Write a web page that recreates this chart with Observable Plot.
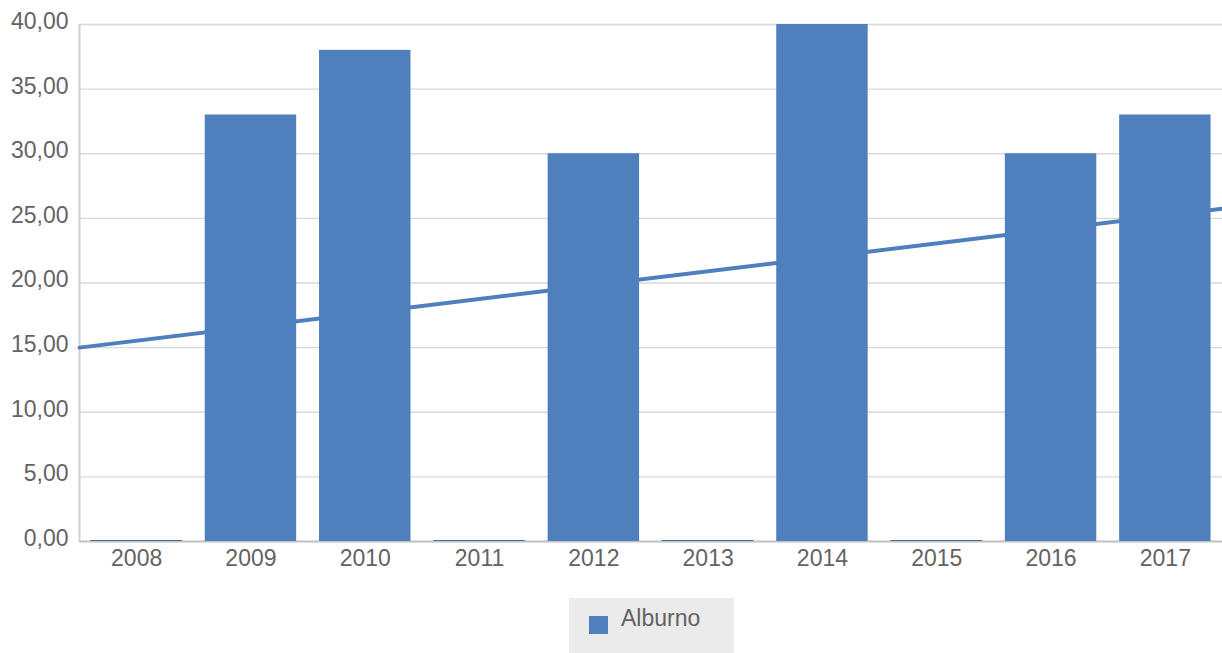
<!DOCTYPE html>
<html>
<head>
<meta charset="utf-8">
<script src="https://cdn.jsdelivr.net/npm/d3@7"></script>
<script src="https://cdn.jsdelivr.net/npm/@observablehq/plot@0.6"></script>
<style>
  html, body { margin: 0; padding: 0; background: #fff; }
  #chart svg { display: block; }
  .legend {
    margin-left: 569px; margin-top: 18px; width: 165px; height: 60px;
    background: #ebebeb; position: relative;
    font-family: "Liberation Sans", Arial, sans-serif; font-size: 23px; color: #636363;
  }
  .legend .sw { position: absolute; left: 20px; top: 18px; width: 19px; height: 18px; background: #4f7fbd; }
  .legend .lb { position: absolute; left: 52px; top: 7px; }
</style>
</head>
<body>
<div id="chart"></div>
<div class="legend"><span class="sw"></span><span class="lb">Alburno</span></div>
<script>
const years = [2008, 2009, 2010, 2011, 2012, 2013, 2014, 2015, 2016, 2017];
const values = [0, 33, 38, 0, 30, 0, 40, 0, 30, 33];
const seriesName = "Alburno";
const trendX = [2007.5, 2017.5];
const trendValues = [15.0, 25.75];
const yTicks = [0, 5, 10, 15, 20, 25, 30, 35, 40];

const data = years.map((year, i) => ({year, value: values[i]}));
const trend = trendX.map((x, i) => ({x, y: trendValues[i]}));
const blue = "#4f7fbd";
const fmt = d => d.toFixed(2).replace(".", ",");

const chart = Plot.plot({
  width: 1222,
  height: 580,
  marginTop: 24,
  marginBottom: 39,
  marginLeft: 79,
  marginRight: 0,
  x: {domain: [2007.5, 2017.5]},
  y: {domain: [0, 40]},
  style: {fontFamily: "'Liberation Sans', Arial, sans-serif", fontSize: "23px", color: "#636363", background: "#fff"},
  marks: [
    Plot.ruleY(yTicks, {stroke: "#d9d9d9", strokeWidth: 1.3}),
    Plot.ruleY([0], {stroke: "#c4c4c4", strokeWidth: 2}),
    Plot.ruleX([2007.5], {stroke: "#d0d0d0", strokeWidth: 2}),
    Plot.line(trend, {x: "x", y: "y", stroke: blue, strokeWidth: 4}),
    Plot.rectY(data.filter(d => d.value > 0), {x1: d => d.year - 0.4, x2: d => d.year + 0.4, y: "value", fill: blue}),
    Plot.ruleY(data.filter(d => d.value === 0), {x1: d => d.year - 0.4, x2: d => d.year + 0.4, y: "value", stroke: "#4a6a98", strokeWidth: 1.2, dy: -1}),
    Plot.axisY({ticks: yTicks, tickSize: 0, tickPadding: 11, tickFormat: fmt, dy: -3, label: null}),
    Plot.axisX({ticks: years, tickSize: 0, tickPadding: 8, tickFormat: d => String(d), label: null})
  ]
});
document.getElementById("chart").appendChild(chart);
</script>
</body>
</html>
